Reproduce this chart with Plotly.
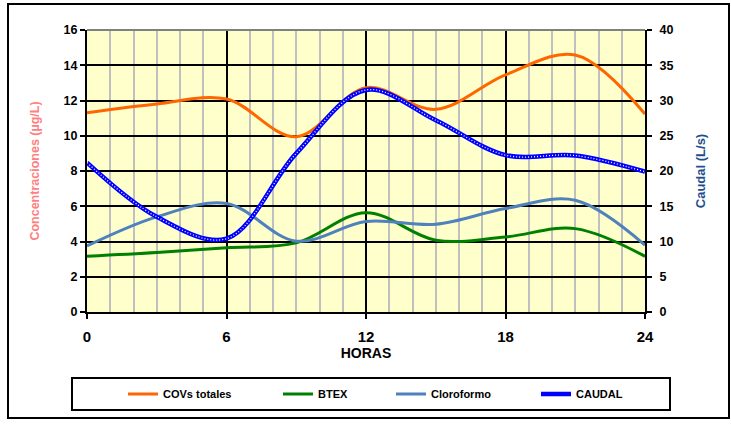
import plotly.graph_objects as go

horas = [0, 3, 6, 9, 12, 15, 18, 21, 24]
covs_totales = [11.3, 11.8, 12.08, 9.94, 12.73, 11.5, 13.45, 14.58, 11.23]
btex = [3.16, 3.37, 3.64, 3.92, 5.63, 4.07, 4.26, 4.73, 3.16]
cloroformo = [3.75, 5.4, 6.16, 4.02, 5.13, 4.98, 5.87, 6.34, 3.79]
caudal = [21.2, 13.5, 10.4, 22.5, 31.5, 27.2, 22.25, 22.2, 19.9]

x_ticks = [0, 6, 12, 18, 24]
y_ticks = [0, 2, 4, 6, 8, 10, 12, 14, 16]
y2_ticks = [0, 5, 10, 15, 20, 25, 30, 35, 40]

FONT = "Arial, Liberation Sans, sans-serif"
W, H = 731, 428
L, R, T, B = 87, 86, 30, 116
PW, PH = W - L - R, H - T - B

def px_x(px):
    return (px - L) / PW

def px_y(py):
    return (H - B - py) / PH

fig = go.Figure()

fig.add_trace(go.Scatter(x=horas, y=covs_totales, name="COVs totales", mode="lines",
                         line=dict(color="#FF6600", width=3, shape="spline", smoothing=1),
                         legend="legend"))
fig.add_trace(go.Scatter(x=horas, y=btex, name="BTEX", mode="lines",
                         line=dict(color="#008000", width=3, shape="spline", smoothing=1),
                         legend="legend2"))
fig.add_trace(go.Scatter(x=horas, y=cloroformo, name="Cloroformo", mode="lines",
                         line=dict(color="#4F81BD", width=3, shape="spline", smoothing=1),
                         legend="legend3"))
fig.add_trace(go.Scatter(x=horas, y=caudal, name="CAUDAL", mode="lines", yaxis="y2",
                         line=dict(color="#0000FF", width=4.5, shape="spline", smoothing=1),
                         legend="legend4"))
fig.add_trace(go.Scatter(x=horas, y=caudal, name="CAUDAL", mode="lines", yaxis="y2",
                         line=dict(color="#FFFFFF", width=1.3, dash="1px,2px", shape="spline", smoothing=1),
                         showlegend=False, hoverinfo="skip"))

tickfont = dict(family=FONT, size=12.5, color="black", weight="bold")

legend_common = dict(orientation="h", yanchor="middle", y=px_y(394), xanchor="left",
                     bgcolor="rgba(0,0,0,0)", borderwidth=0,
                     font=dict(family=FONT, size=11, color="black", weight="bold"))

fig.update_layout(
    width=W, height=H,
    margin=dict(l=L, r=R, t=T, b=B),
    paper_bgcolor="white",
    plot_bgcolor="#FFFFCC",
    xaxis=dict(range=[0, 24], tickvals=x_ticks, ticktext=[str(v) for v in x_ticks],
               showgrid=True, gridcolor="black", gridwidth=2,
               minor=dict(dtick=1, tick0=0, showgrid=True, gridcolor="#C0C0C0", gridwidth=2),
               showline=True, linecolor="black", linewidth=2,
               ticks="outside", ticklen=5, tickwidth=2, tickcolor="black",
               ticklabelstandoff=5,
               tickfont=dict(family=FONT, size=15, color="black", weight="bold"),
               zeroline=False,
               title=dict(text="HORAS", font=dict(family=FONT, size=14, color="black", weight="bold"),
                          standoff=2)),
    yaxis=dict(range=[0, 16], tickvals=y_ticks, showgrid=True, gridcolor="black", gridwidth=2,
               showline=True, linecolor="black", linewidth=2,
               ticks="outside", ticklen=5, tickwidth=2, tickcolor="black",
               tickfont=tickfont, zeroline=False,
               title=dict(text="Concentraciones (µg/L)",
                          font=dict(family=FONT, size=12.5, color="#FF8080", weight="bold"),
                          standoff=21)),
    yaxis2=dict(range=[0, 40], tickvals=y2_ticks, overlaying="y", side="right",
                showgrid=False, showline=True, linecolor="black", linewidth=2,
                ticks="outside", ticklen=5, tickwidth=2, tickcolor="black",
                ticklabelstandoff=5,
                tickfont=tickfont, zeroline=False,
                title=dict(text="Caudal (L/s)",
                           font=dict(family=FONT, size=13, color="#1F4F8F", weight="bold"),
                           standoff=23)),
    legend=dict(legend_common, x=px_x(123)),
    legend2=dict(legend_common, x=px_x(278)),
    legend3=dict(legend_common, x=px_x(391)),
    legend4=dict(legend_common, x=px_x(536)),
    shapes=[
        dict(type="line", xref="paper", yref="paper", x0=0, x1=1, y0=1, y1=1,
             line=dict(color="#808080", width=2)),
        dict(type="rect", xref="paper", yref="paper",
             x0=px_x(72), x1=px_x(670), y0=px_y(378), y1=px_y(410),
             line=dict(color="black", width=2), fillcolor="rgba(0,0,0,0)"),
        dict(type="rect", xref="paper", yref="paper",
             x0=px_x(8), x1=px_x(729), y0=px_y(4), y1=px_y(418),
             line=dict(color="black", width=2), fillcolor="rgba(0,0,0,0)"),
    ],
)

fig.write_html("out.html", config={"displayModeBar": False},
               post_script="document.body.style.margin='0';")
